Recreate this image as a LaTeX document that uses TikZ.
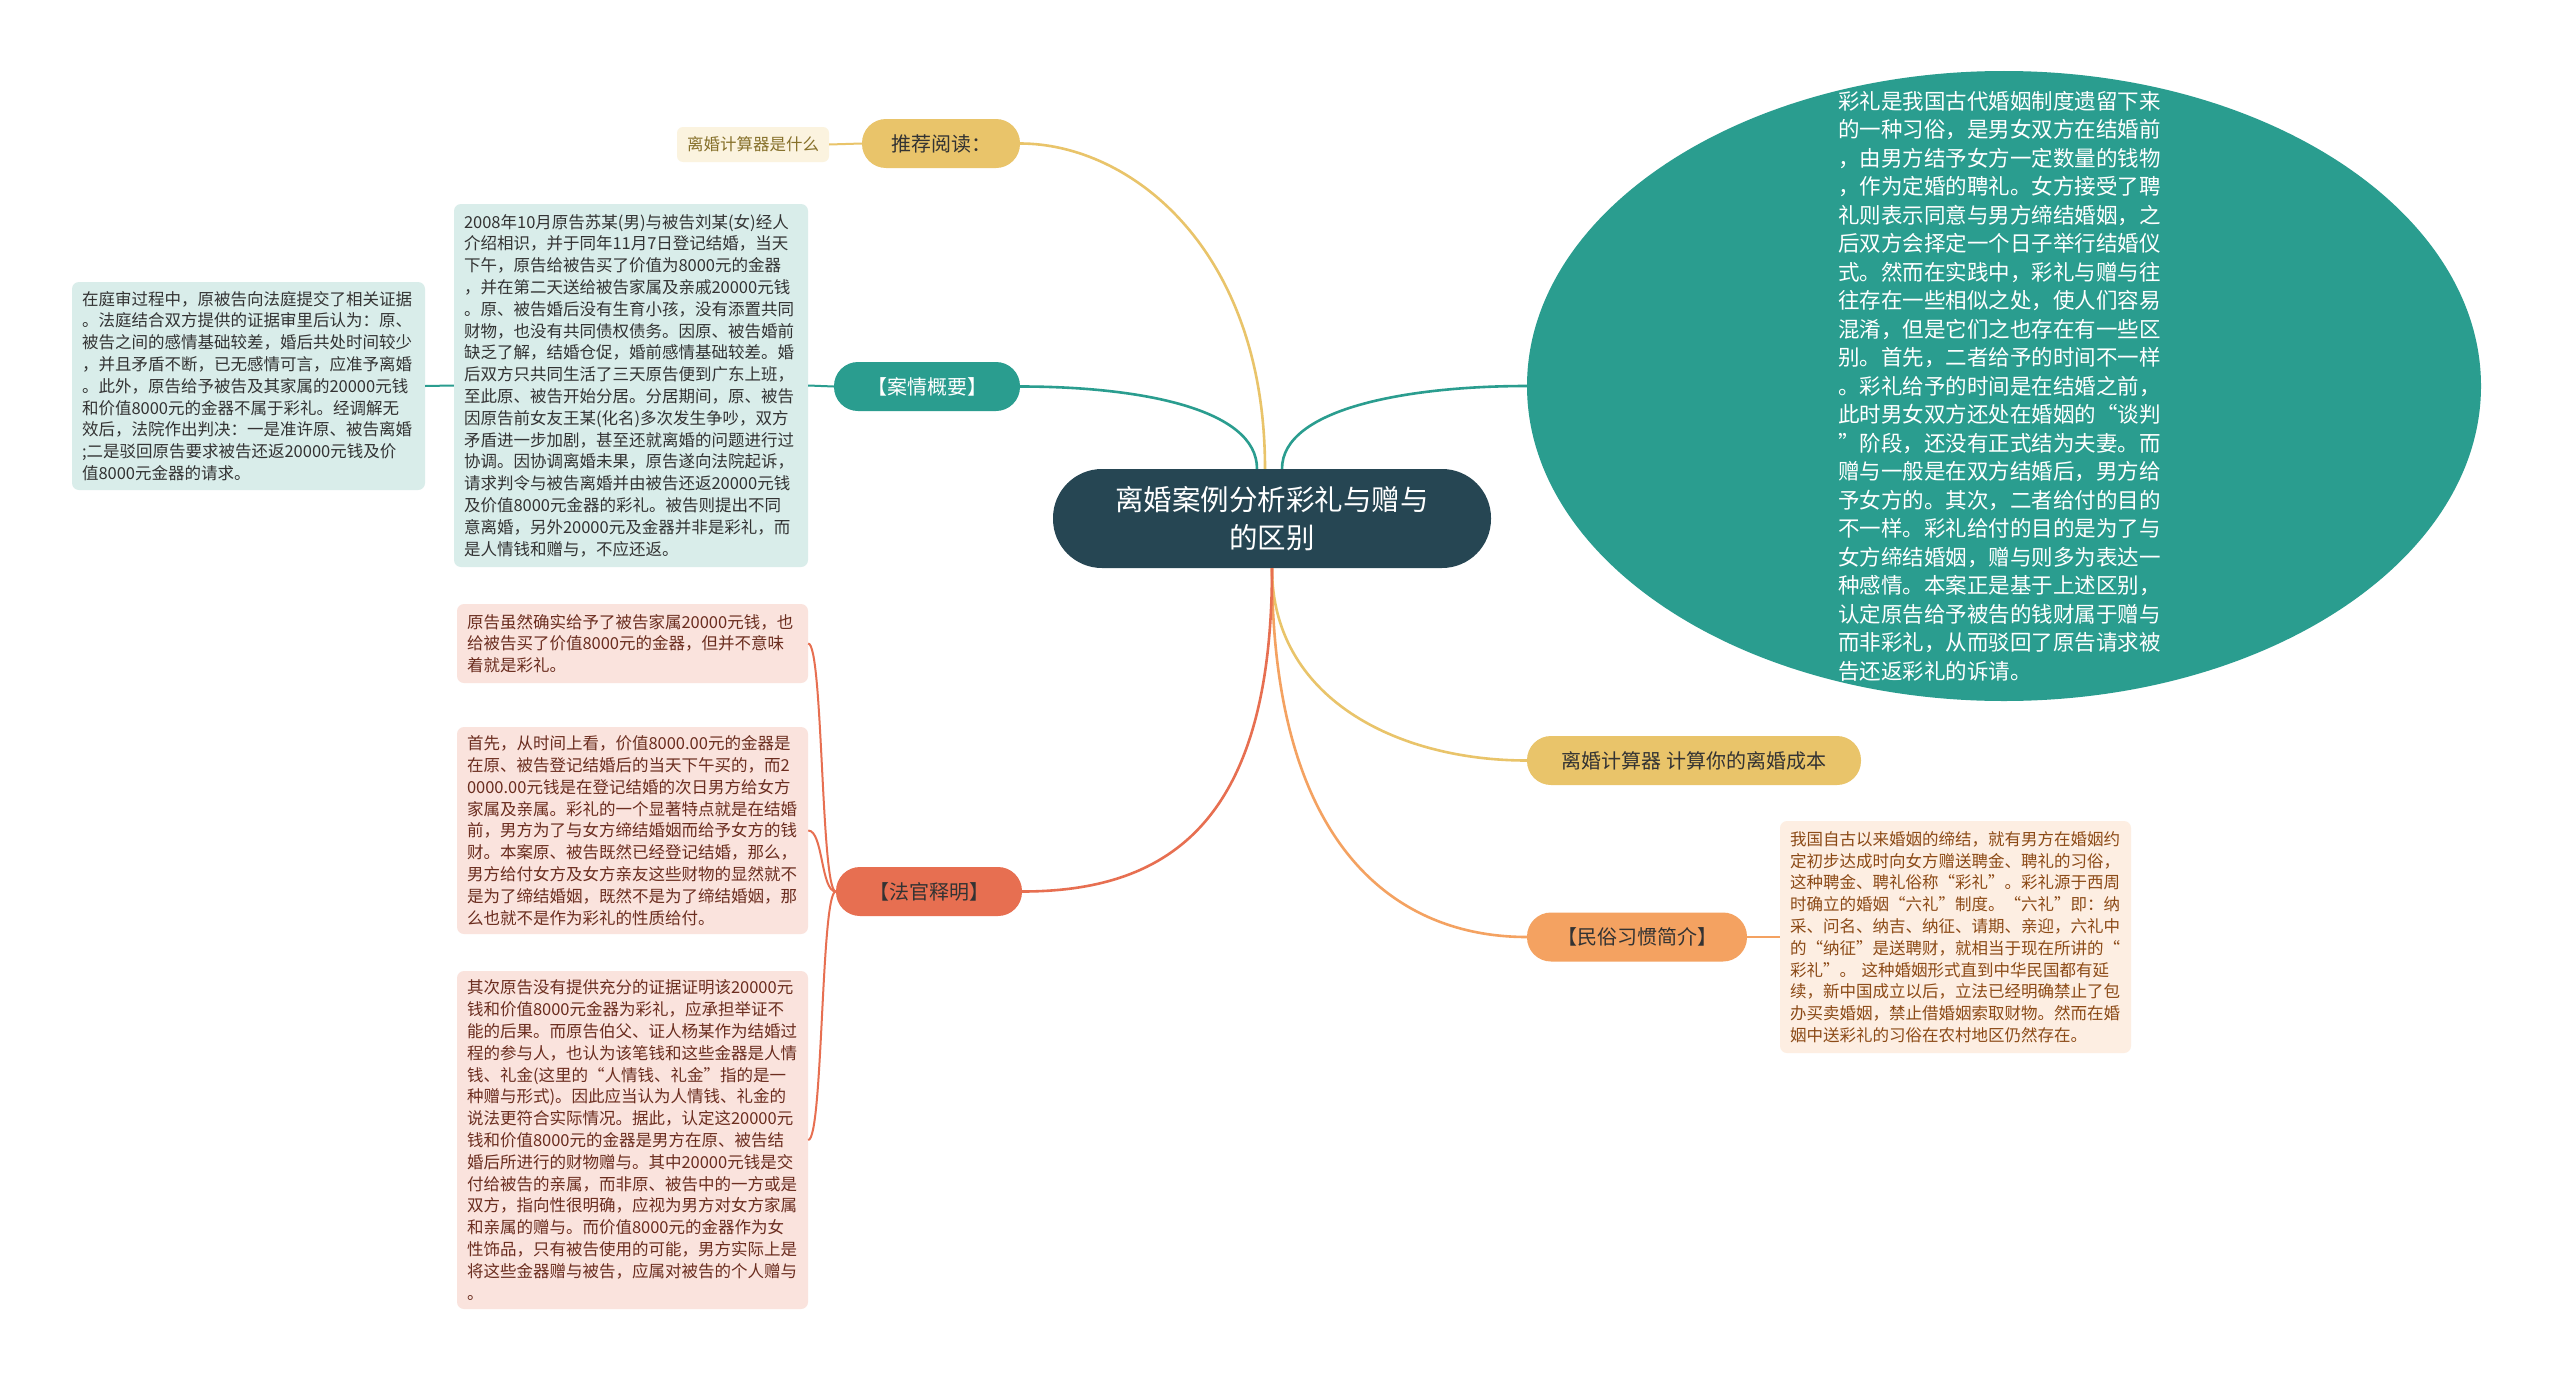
\documentclass[tikz,border=0pt]{standalone}
\usepackage{fontspec}
\setmainfont{Noto Sans CJK SC}
\usetikzlibrary{shapes.geometric,calc}
\definecolor{cdark}{HTML}{264653}
\definecolor{cteal}{HTML}{2A9D8F}
\definecolor{cgold}{HTML}{E9C46A}
\definecolor{corange}{HTML}{F4A261}
\definecolor{ccoral}{HTML}{E76F51}
\definecolor{ltteal}{HTML}{D9EDEA}
\definecolor{ltpink}{HTML}{FAE3DD}
\definecolor{ltorange}{HTML}{FDEEE2}
\definecolor{ltbeige}{HTML}{FBF3DF}
\definecolor{tdark}{HTML}{333333}
\definecolor{tbrown}{HTML}{6B2D1F}
\definecolor{torange}{HTML}{8C4A16}
\definecolor{tolive}{HTML}{86702A}
\begin{document}
\begin{tikzpicture}[x=1pt,y=-1pt,
  pill/.style={rectangle, rounded corners=24pt, minimum height=49pt, inner sep=0pt, font=\fontsize{20}{24}\selectfont},
  tbox/.style={rectangle, rounded corners=7pt, inner xsep=10pt, inner ysep=0pt, align=left, font=\fontsize{16.5}{21.8}\selectfont},
  conn/.style={line width=2.6pt},
  conntwo/.style={line width=2pt}]
\fill[white] (0,0) rectangle (2560,1381);
\path[use as bounding box] (0,0) rectangle (2560,1381);

% central node
\node[rectangle, rounded corners=49pt, fill=cdark, text=white, minimum width=438pt, minimum height=99pt, inner sep=0pt, align=center, font=\fontsize{28.5}{37.5}\selectfont] (c) at (1272,518.5) {离婚案例分析彩礼与赠与\\的区别};

% recommended reading
\node[pill, fill=cgold, text=tdark, minimum width=158pt] (tj) at (941,143.5) {推荐阅读：};
\node[rectangle, rounded corners=6pt, fill=ltbeige, text=tolive, minimum width=152pt, minimum height=35pt, inner sep=0pt, font=\fontsize{16.5}{20}\selectfont] (tjs) at (753,144.5) {离婚计算器是什么};

% case overview
\node[pill, fill=cteal, text=white, minimum width=186pt] (aj) at (927,386.5) {【案情概要】};
\node[tbox, fill=ltteal, text=tdark, minimum width=354pt, minimum height=363pt, text width=334pt] (ajt) at (631,385.5) {2008年10月原告苏某(男)与被告刘某(女)经人\\介绍相识，并于同年11月7日登记结婚，当天\\下午，原告给被告买了价值为8000元的金器\\，并在第二天送给被告家属及亲戚20000元钱\\。原、被告婚后没有生育小孩，没有添置共同\\财物，也没有共同债权债务。因原、被告婚前\\缺乏了解，结婚仓促，婚前感情基础较差。婚\\后双方只共同生活了三天原告便到广东上班，\\至此原、被告开始分居。分居期间，原、被告\\因原告前女友王某(化名)多次发生争吵，双方\\矛盾进一步加剧，甚至还就离婚的问题进行过\\协调。因协调离婚未果，原告遂向法院起诉，\\请求判令与被告离婚并由被告还返20000元钱\\及价值8000元金器的彩礼。被告则提出不同\\意离婚，另外20000元及金器并非是彩礼，而\\是人情钱和赠与，不应还返。};
\node[tbox, fill=ltteal, text=tdark, minimum width=353pt, minimum height=208pt, text width=333pt] (ajl) at (248.5,386) {在庭审过程中，原被告向法庭提交了相关证据\\。法庭结合双方提供的证据审里后认为：原、\\被告之间的感情基础较差，婚后共处时间较少\\，并且矛盾不断，已无感情可言，应准予离婚\\。此外，原告给予被告及其家属的20000元钱\\和价值8000元的金器不属于彩礼。经调解无\\效后，法院作出判决：一是准许原、被告离婚\\;二是驳回原告要求被告还返20000元钱及价\\值8000元金器的请求。};

% judge explanation
\node[pill, fill=ccoral, text=tdark, minimum width=186pt] (fg) at (929,891.5) {【法官释明】};
\node[tbox, fill=ltpink, text=tbrown, minimum width=351pt, minimum height=79pt, text width=331pt] (pa) at (632.5,643.5) {原告虽然确实给予了被告家属20000元钱，也\\给被告买了价值8000元的金器，但并不意味\\着就是彩礼。};
\node[tbox, fill=ltpink, text=tbrown, minimum width=351pt, minimum height=207pt, text width=331pt] (pb) at (632.5,830.5) {首先，从时间上看，价值8000.00元的金器是\\在原、被告登记结婚后的当天下午买的，而2\\0000.00元钱是在登记结婚的次日男方给女方\\家属及亲属。彩礼的一个显著特点就是在结婚\\前，男方为了与女方缔结婚姻而给予女方的钱\\财。本案原、被告既然已经登记结婚，那么，\\男方给付女方及女方亲友这些财物的显然就不\\是为了缔结婚姻，既然不是为了缔结婚姻，那\\么也就不是作为彩礼的性质给付。};
\node[tbox, fill=ltpink, text=tbrown, minimum width=351pt, minimum height=338pt, text width=331pt] (pc) at (632.5,1140) {其次原告没有提供充分的证据证明该20000元\\钱和价值8000元金器为彩礼，应承担举证不\\能的后果。而原告伯父、证人杨某作为结婚过\\程的参与人，也认为该笔钱和这些金器是人情\\钱、礼金(这里的“人情钱、礼金”指的是一\\种赠与形式)。因此应当认为人情钱、礼金的\\说法更符合实际情况。据此，认定这20000元\\钱和价值8000元的金器是男方在原、被告结\\婚后所进行的财物赠与。其中20000元钱是交\\付给被告的亲属，而非原、被告中的一方或是\\双方，指向性很明确，应视为男方对女方家属\\和亲属的赠与。而价值8000元的金器作为女\\性饰品，只有被告使用的可能，男方实际上是\\将这些金器赠与被告，应属对被告的个人赠与\\。};

% ellipse
\node[ellipse, fill=cteal, minimum width=954pt, minimum height=630pt, inner sep=0pt] (ell) at (2004,386) {};
\node[align=left, text=white, text width=330pt, inner sep=0pt, font=\fontsize{21.5}{28.5}\selectfont] (ellt) at (2003,386) {彩礼是我国古代婚姻制度遗留下来\\的一种习俗，是男女双方在结婚前\\，由男方结予女方一定数量的钱物\\，作为定婚的聘礼。女方接受了聘\\礼则表示同意与男方缔结婚姻，之\\后双方会择定一个日子举行结婚仪\\式。然而在实践中，彩礼与赠与往\\往存在一些相似之处，使人们容易\\混淆，但是它们之也存在有一些区\\别。首先，二者给予的时间不一样\\。彩礼给予的时间是在结婚之前，\\此时男女双方还处在婚姻的“谈判\\”阶段，还没有正式结为夫妻。而\\赠与一般是在双方结婚后，男方给\\予女方的。其次，二者给付的目的\\不一样。彩礼给付的目的是为了与\\女方缔结婚姻，赠与则多为表达一\\种感情。本案正是基于上述区别，\\认定原告给予被告的钱财属于赠与\\而非彩礼，从而驳回了原告请求被\\告还返彩礼的诉请。};

% calculator
\node[pill, fill=cgold, text=tdark, minimum width=334pt] (js) at (1694,760.5) {离婚计算器 计算你的离婚成本};

% folk customs
\node[pill, fill=corange, text=tdark, minimum width=220pt] (ms) at (1637,937) {【民俗习惯简介】};
\node[tbox, fill=ltorange, text=torange, minimum width=351pt, minimum height=232pt, text width=331pt] (mst) at (1955.5,937) {我国自古以来婚姻的缔结，就有男方在婚姻约\\定初步达成时向女方赠送聘金、聘礼的习俗，\\这种聘金、聘礼俗称“彩礼”。彩礼源于西周\\时确立的婚姻“六礼”制度。“六礼”即：纳\\采、问名、纳吉、纳征、请期、亲迎，六礼中\\的“纳征”是送聘财，就相当于现在所讲的“\\彩礼”。 这种婚姻形式直到中华民国都有延\\续，新中国成立以后，立法已经明确禁止了包\\办买卖婚姻，禁止借婚姻索取财物。然而在婚\\姻中送彩礼的习俗在农村地区仍然存在。};

% connectors
\coordinate (s1) at ($(c.north)+(-7,0)$);
\coordinate (s2) at ($(c.north)+(-15,0)$);
\coordinate (s3) at ($(c.north)+(10,0)$);
\coordinate (s4) at (c.south);
\draw[conn, cgold] (s1) .. controls ($(s1)+(0,-220)$) and ($(tj.east)+(110,0)$) .. (tj.east);
\draw[conn, cteal] (s2) .. controls ($(s2)+(0,-60)$) and ($(aj.east)+(120,0)$) .. (aj.east);
\draw[conn, cteal] (s3) .. controls ($(s3)+(0,-60)$) and ($(ell.west)+(-120,0)$) .. (ell.west);
\draw[conn, cgold] (s4) .. controls ($(s4)+(0,130)$) and ($(js.west)+(-130,0)$) .. (js.west);
\draw[conn, corange] (s4) .. controls ($(s4)+(0,280)$) and ($(ms.west)+(-130,0)$) .. (ms.west);
\draw[conn, ccoral] (s4) .. controls ($(s4)+(0,250)$) and ($(fg.east)+(150,0)$) .. (fg.east);

\draw[conntwo, cgold] (tj.west) -- (tjs.east);
\draw[conntwo, cteal] (aj.west) -- (ajt.east);
\draw[conntwo, cteal] (ajt.west) -- (ajl.east);
\draw[conntwo, corange] (ms.east) -- (mst.west);
\foreach \b in {pa,pb,pc}{
  \draw[conntwo, ccoral] (fg.west) .. controls ($(fg.west)+(-15,0)$) and ($(\b.east)+(15,0)$) .. (\b.east);
}
\end{tikzpicture}
\end{document}
